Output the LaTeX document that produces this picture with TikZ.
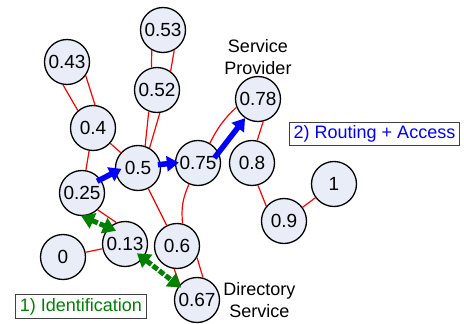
\documentclass[tikz,border=0pt]{standalone}
\usepackage{fontspec}
\setmainfont{Liberation Sans}
\usepackage{xcolor}
\usetikzlibrary{arrows.meta,positioning}

\definecolor{peerfill}{RGB}{232,237,248}
\definecolor{idgreen}{RGB}{0,128,0}

\begin{document}
\begin{tikzpicture}[x=1pt,y=-1pt]
    \tikzstyle{peer}=[circle, minimum size = 45pt, inner sep = 0pt, line width = 1.3pt, draw = black, fill = peerfill, font = \fontsize{19}{22}\selectfont]
    \tikzstyle{link}=[red, line width = 1.2pt]
    \tikzstyle{route}=[-{Triangle[length=12pt,width=15pt]}, blue, line width = 5.5pt]
    \tikzstyle{ident}=[{Triangle[length=13pt,width=16pt]}-{Triangle[length=13pt,width=16pt]}, idgreen, line width = 5pt, dash pattern = on 6pt off 2pt]
    \tikzstyle{caption}=[align = center, inner sep = 1pt, font = \fontsize{18}{22}\selectfont]
    \tikzstyle{legend}=[draw = black!75, line width = 1pt, fill = white, inner xsep = 4.5pt, inner ysep = 3.5pt, font = \fontsize{18}{21}\selectfont]
    \useasboundingbox (0,0) rectangle (464,324);
    % peers on the ring
    \node[peer] (n0) at (63,257) {0};
    \node[peer] (n13) at (125,244) {0.13};
    \node[peer] (n25) at (82,193) {0.25};
    \node[peer] (n4) at (93,128) {0.4};
    \node[peer] (n43) at (67,62) {0.43};
    \node[peer] (n5) at (138,168) {0.5};
    \node[peer] (n52) at (157,90) {0.52};
    \node[peer] (n53) at (163,30) {0.53};
    \node[peer] (n6) at (177,246) {0.6};
    \node[peer] (n67) at (197,300) {0.67};
    \node[peer] (n75) at (198,163) {0.75};
    \node[peer] (n78) at (258,99) {0.78};
    \node[peer] (n8) at (252,163) {0.8};
    \node[peer] (n9) at (284,221) {0.9};
    \node[peer] (n1) at (334,184) {1};
    \node[caption] (provider) [above=0pt of n78] {Service\\Provider};
    \node[caption] (directory) [right=2pt of n67] {Directory\\Service};
    \node[legend, text = blue] (routing) at (374.5,134) {2) Routing + Access};
    \node[legend, text = idgreen] (identification) at (81,306.5) {1) Identification};
    % overlay links
    \draw[link] (n43.260) -- (n4.131);
    \draw[link] (n43.324) -- (n4.85);
    \draw[link] (n53.241) -- (n52.104);
    \draw[link] (n53.299) -- (n52.54);
    \draw[link] (n52.249) -- (n5.72);
    \draw[link] (n52.277) -- (n5.60);
    \draw[link] (n4) -- (n25);
    \draw[link] (n4) -- (n5);
    \draw[link] (n25.313) -- (n13.112);
    \draw[link] (n0) -- (n13);
    \draw[link] (n5) -- (n6);
    \draw[link] (n75.247) to[bend right=15] (n6.76);
    \draw[link] (n6.263) -- (n67.138);
    \draw[link] (n6.330) -- (n67.75);
    \draw[link] (n75.59) to[bend left=10] (n78.201);
    \draw[link] (n78.283) -- (n8.77);
    \draw[link] (n8.285) -- (n9.140);
    \draw[link] (n9) -- (n1);
    % lookup paths
    \draw[route, shorten <=-4pt, shorten >=-7pt] (n25.36) -- (n5.190);
    \draw[route, shorten <=-3pt, shorten >=-4pt] (n5.9) -- (n75.180);
    \draw[route, shorten <=-7pt] (n75.27) -- (n78.236);
    \draw[ident, shorten <=-1pt, shorten >=-8pt] (n25.south) -- (n13.north west);
    \draw[ident, shorten <=-8pt, shorten >=-3pt] (n13) -- (n67);
\end{tikzpicture}
\end{document}
